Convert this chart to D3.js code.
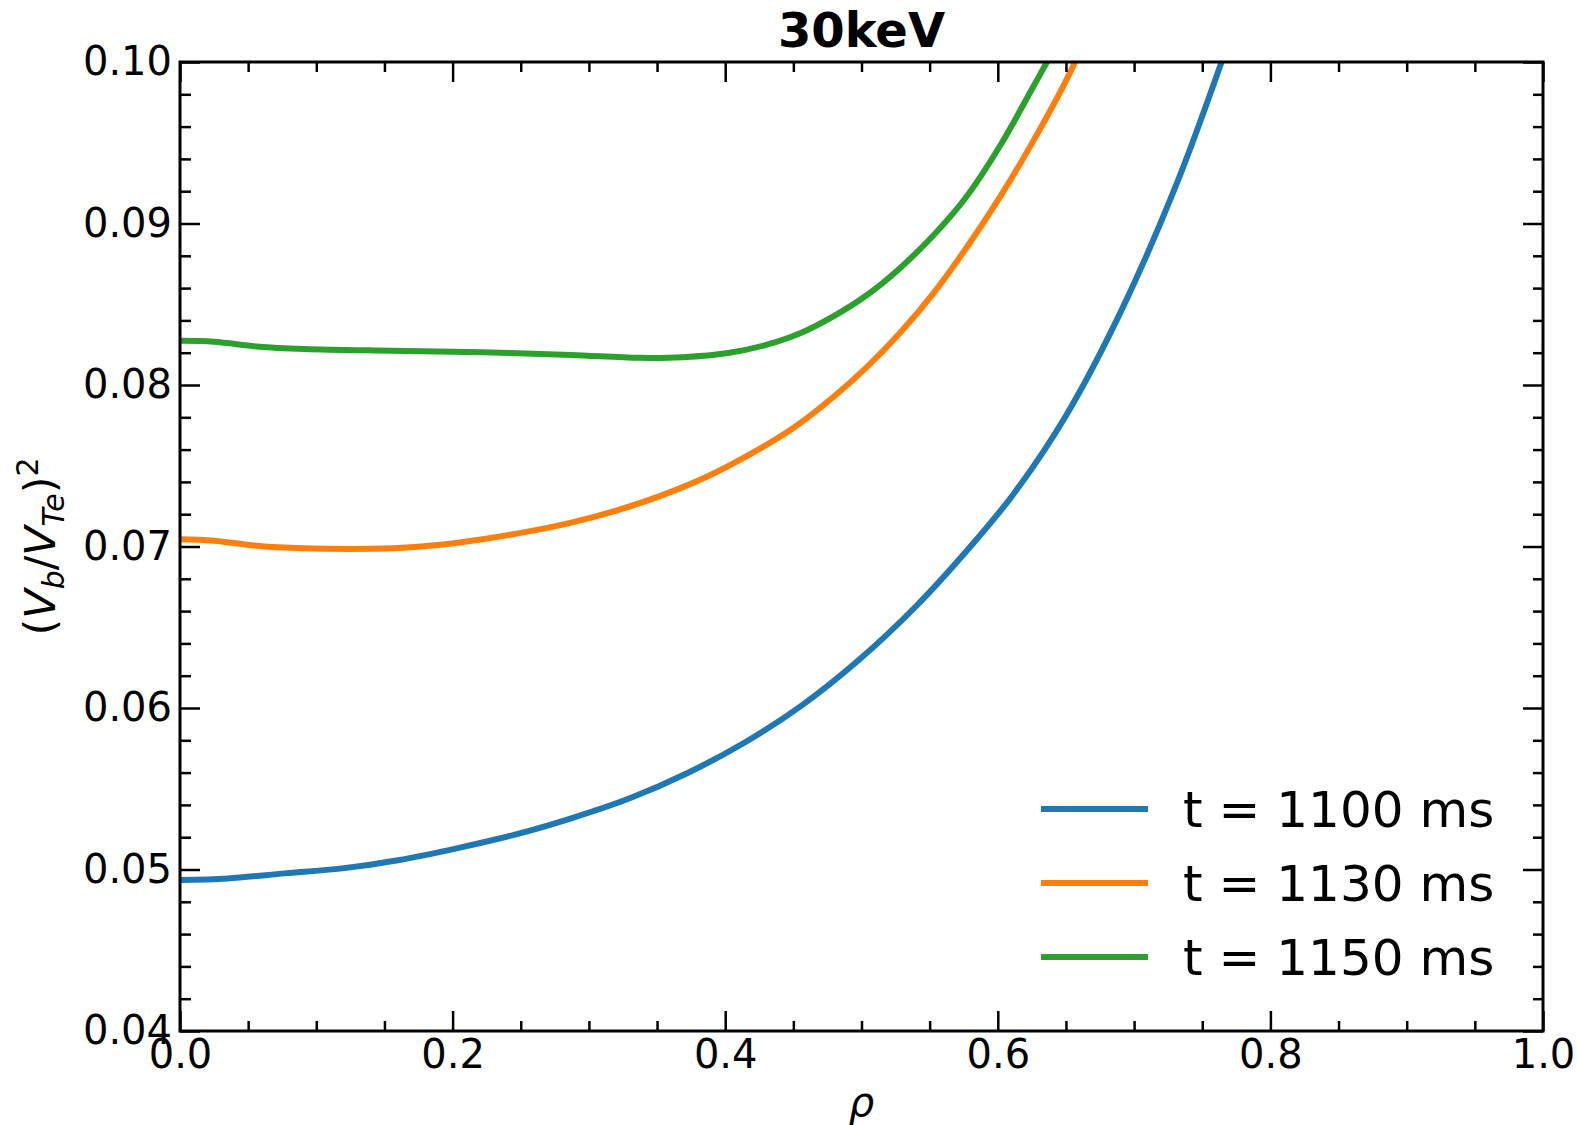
<!DOCTYPE html>
<html>
<head>
<meta charset="utf-8">
<script src="https://cdn.jsdelivr.net/npm/d3@7"></script>
<style>
html,body{margin:0;padding:0;background:#fff;}
svg{display:block;font-family:"DejaVu Sans",sans-serif;}
</style>
</head>
<body>
<svg id="chart" width="1577" height="1125"></svg>
<script>
// ---- data ----
const titleText = "30keV";
const seriesLabels = ["t = 1100 ms", "t = 1130 ms", "t = 1150 ms"];
const seriesColors = ["#1f77b4", "#ff7f0e", "#2ca02c"];

const rho1100 = [0, 0.035, 0.077, 0.119, 0.161, 0.203, 0.245, 0.287, 0.330, 0.372, 0.414, 0.456, 0.498, 0.540, 0.582, 0.612, 0.650, 0.690, 0.730, 0.765, 0.780];
const val1100 = [0.04935, 0.04945, 0.04976, 0.05007, 0.05059, 0.05131, 0.05214, 0.05317, 0.05441, 0.05596, 0.05785, 0.06015, 0.06297, 0.06630, 0.0702, 0.0733, 0.0781, 0.0845, 0.0922, 0.1002, 0.1040];

const rho1130 = [0, 0.025, 0.058, 0.091, 0.124, 0.156, 0.189, 0.222, 0.255, 0.287, 0.320, 0.353, 0.386, 0.418, 0.451, 0.480, 0.505, 0.528, 0.553, 0.577, 0.602, 0.626, 0.651, 0.670];
const val1130 = [0.07045, 0.07036, 0.07003, 0.06989, 0.06985, 0.06989, 0.07009, 0.07045, 0.07092, 0.07148, 0.07222, 0.07315, 0.0743, 0.0757, 0.0774, 0.0793, 0.0812, 0.0832, 0.0857, 0.0885, 0.0917, 0.0951, 0.0990, 0.1025];

const rho1150 = [0, 0.025, 0.058, 0.091, 0.156, 0.222, 0.287, 0.337, 0.369, 0.402, 0.430, 0.455, 0.479, 0.504, 0.528, 0.553, 0.577, 0.602, 0.626, 0.638, 0.655];
const val1150 = [0.08274, 0.08268, 0.08237, 0.08223, 0.08212, 0.08203, 0.08186, 0.08168, 0.08172, 0.08198, 0.08248, 0.0832, 0.08423, 0.08557, 0.08722, 0.08929, 0.09166, 0.09486, 0.09847, 0.1003, 0.1030];

const xMajorTicks = [0.0, 0.2, 0.4, 0.6, 0.8, 1.0];
const xMinorTicks = [0.05,0.1,0.15,0.25,0.3,0.35,0.45,0.5,0.55,0.65,0.7,0.75,0.85,0.9,0.95];
const yMajorTicks = [0.04, 0.05, 0.06, 0.07, 0.08, 0.09, 0.10];
const yMinorTicks = [0.042,0.044,0.046,0.048,0.052,0.054,0.056,0.058,0.062,0.064,0.066,0.068,0.072,0.074,0.076,0.078,0.082,0.084,0.086,0.088,0.092,0.094,0.096,0.098];

// ---- layout ----
const L = 180, R = 1543, T = 62, B = 1031;
const svg = d3.select("#chart");
const x = d3.scaleLinear().domain([0, 1]).range([L, R]);
const y = d3.scaleLinear().domain([0.04, 0.10]).range([B, T]);

const series = [
  {rho: rho1100, val: val1100},
  {rho: rho1130, val: val1130},
  {rho: rho1150, val: val1150}
];

svg.append("defs").append("clipPath").attr("id","clip")
  .append("rect").attr("x",L).attr("y",T).attr("width",R-L).attr("height",B-T);

const line = d3.line().x(d => x(d[0])).y(d => y(d[1])).curve(d3.curveCatmullRom.alpha(0.5));
const gLines = svg.append("g").attr("clip-path","url(#clip)");
series.forEach((s, i) => {
  gLines.append("path")
    .datum(s.rho.map((r, k) => [r, s.val[k]]))
    .attr("d", line)
    .attr("fill","none")
    .attr("stroke", seriesColors[i])
    .attr("stroke-width", 6)
    .attr("stroke-linecap","butt");
});

function styleAxis(g){
  g.select(".domain").remove();
  g.selectAll(".tick line").attr("stroke","#000").attr("stroke-width",2.5);
  g.selectAll(".tick text").attr("fill","#000").attr("font-size","40px").attr("font-family","DejaVu Sans");
}

// left
svg.append("g").attr("transform",`translate(${L},0)`)
  .call(d3.axisLeft(y).tickValues(yMajorTicks).tickFormat(d3.format(".2f")).tickSize(-20).tickPadding(8)).call(styleAxis);
svg.append("g").attr("transform",`translate(${L},0)`)
  .call(d3.axisLeft(y).tickValues(yMinorTicks).tickFormat("").tickSize(-11)).call(styleAxis);
// right
svg.append("g").attr("transform",`translate(${R},0)`)
  .call(d3.axisRight(y).tickValues(yMajorTicks).tickFormat("").tickSize(-20)).call(styleAxis);
svg.append("g").attr("transform",`translate(${R},0)`)
  .call(d3.axisRight(y).tickValues(yMinorTicks).tickFormat("").tickSize(-10)).call(styleAxis);
// bottom
svg.append("g").attr("transform",`translate(0,${B})`)
  .call(d3.axisBottom(x).tickValues(xMajorTicks).tickFormat(d3.format(".1f")).tickSize(-20).tickPadding(9)).call(styleAxis);
svg.append("g").attr("transform",`translate(0,${B})`)
  .call(d3.axisBottom(x).tickValues(xMinorTicks).tickFormat("").tickSize(-10)).call(styleAxis);
// top
svg.append("g").attr("transform",`translate(0,${T})`)
  .call(d3.axisTop(x).tickValues(xMajorTicks).tickFormat("").tickSize(-20)).call(styleAxis);
svg.append("g").attr("transform",`translate(0,${T})`)
  .call(d3.axisTop(x).tickValues(xMinorTicks).tickFormat("").tickSize(-10)).call(styleAxis);

// frame
svg.append("rect").attr("x",L).attr("y",T).attr("width",R-L).attr("height",B-T)
  .attr("fill","none").attr("stroke","#000").attr("stroke-width",3);

// title
svg.append("text").attr("x",(L+R)/2).attr("y",47).attr("text-anchor","middle")
  .attr("font-size","48px").attr("font-weight","bold").attr("fill","#000").text(titleText);

// x label
svg.append("text").attr("x",(L+R)/2).attr("y",1116).attr("text-anchor","middle")
  .attr("font-size","40px").attr("font-style","italic").attr("fill","#000").text("ρ");

// y label
const yl = svg.append("text").attr("transform",`translate(55,${(T+B)/2}) rotate(-90)`)
  .attr("text-anchor","middle").attr("font-size","43px").attr("fill","#000");
yl.append("tspan").text("(");
yl.append("tspan").attr("font-style","italic").text("V");
yl.append("tspan").attr("font-style","italic").attr("font-size","30px").attr("dy","9").text("b");
yl.append("tspan").attr("dy","-9").text("/");
yl.append("tspan").attr("font-style","italic").text("V");
yl.append("tspan").attr("font-style","italic").attr("font-size","30px").attr("dy","9").text("Te");
yl.append("tspan").attr("dy","-9").text(")");
yl.append("tspan").attr("font-size","30px").attr("dy","-17").text("2");

// legend
const legY0 = 809, legStep = 74;
seriesLabels.forEach((lab, i) => {
  const yy = legY0 + i*legStep;
  svg.append("line").attr("x1",1041).attr("x2",1148).attr("y1",yy).attr("y2",yy)
    .attr("stroke",seriesColors[i]).attr("stroke-width",6);
  svg.append("text").attr("x",1183).attr("y",yy+18).attr("font-size","50px").attr("fill","#000").text(lab);
});
</script>
</body>
</html>
